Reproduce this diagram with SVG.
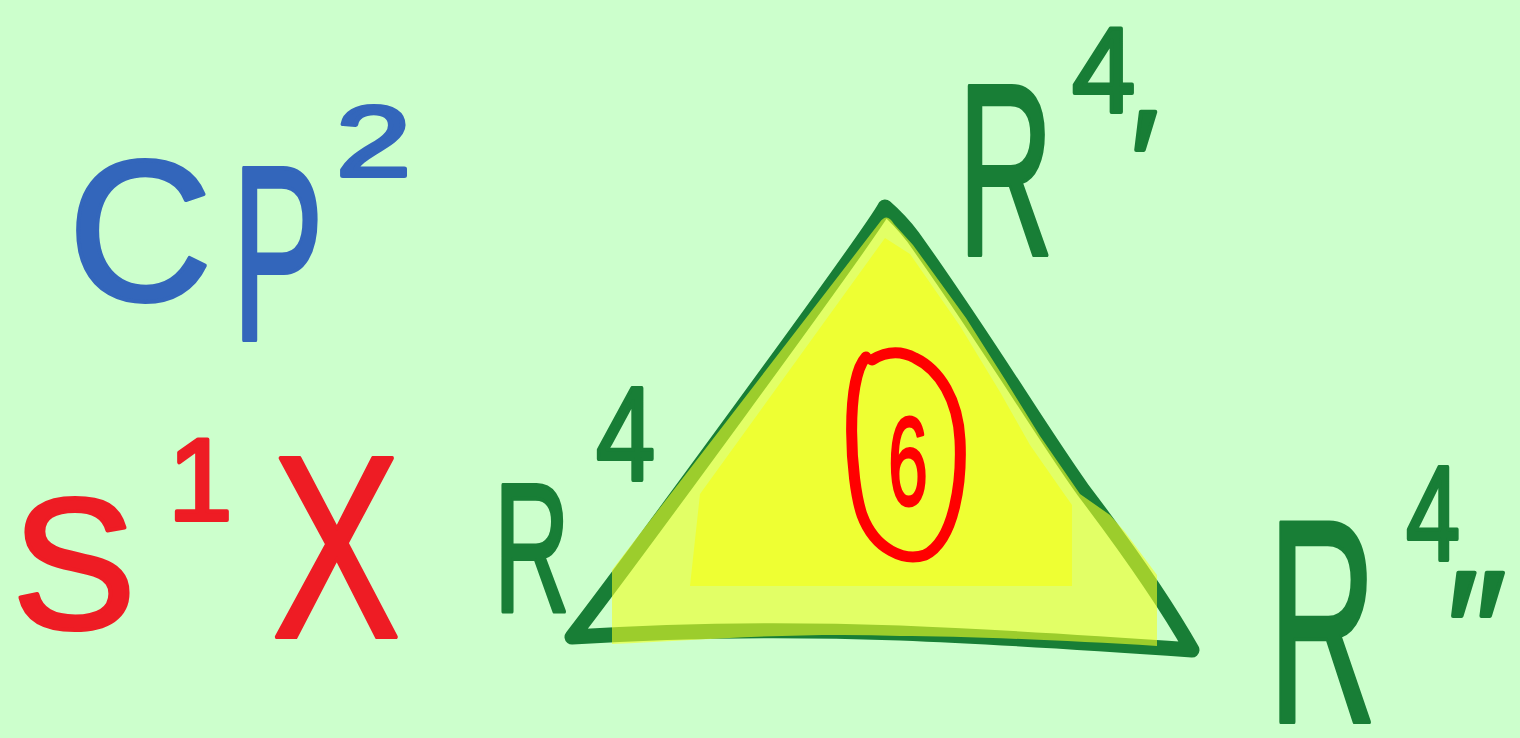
<svg xmlns="http://www.w3.org/2000/svg" width="1520" height="738" viewBox="0 0 1520 738">
<style>
.t{font-family:"Liberation Sans","DejaVu Sans",sans-serif;stroke-linejoin:round;stroke-linecap:round}
.blue{fill:#3366bb;stroke:#3366bb;stroke-width:4}
.red{fill:#ee1c24;stroke:#ee1c24;stroke-width:4}
.grn{fill:#187e36;stroke:#187e36;stroke-width:4}
</style>
<rect width="1520" height="738" fill="#ccffcc"/>
<g id="triangle">
<path d="M885,207 C870,235 620,575 572,637 C650,632 760,628 900,633 C1000,637 1120,645 1192,650 C1175,620 1140,565 1083,490 C1040,430 990,345 913,237 Q900,220 885,207 Z" fill="none" stroke="#187e36" stroke-width="15" stroke-linejoin="round"/>
<path d="M612,644 L612,570 L880,222 Q887,212 894,224 L913,245 L966,318 L1006,381 L1040,436 L1080,494 L1110,515 L1125,532 L1157,575 L1157,646 C1060,640 960,636 900,636 C800,632 700,640 612,644 Z" fill="#f0ff25" fill-opacity="0.61"/>
<path d="M885,238 L700,494 L690,586 L1072,586 L1072,505 L1060,488 L1030,445 L1000,392 L960,326 L910,254 Z" fill="#eeff33"/>
</g>
<g id="cp2">
<text class="t blue" x="68" y="300" font-size="200">C</text>
<text class="t blue" font-size="250" transform="translate(232,340) scale(0.55,1)">P</text>
<text class="t blue" font-size="100" transform="translate(336,176) scale(1.35,1)">2</text>
</g>
<g id="s1x">
<text class="t red" x="12" y="628" font-size="186">S</text>
<text class="t red" x="168" y="520" font-size="116">1</text>
<text class="t red" font-size="260" transform="translate(272,637) scale(0.74,1)">X</text>
</g>
<g id="r4a">
<text class="t grn" font-size="184" transform="translate(494,612) scale(0.57,1)">R</text>
<text class="t grn" font-size="133" transform="translate(596,480) scale(0.8,1)">4</text>
</g>
<g id="r4b">
<text class="t grn" font-size="245" transform="translate(958,255) scale(0.54,1)">R</text>
<text class="t grn" font-size="120" transform="translate(1072,112) scale(0.95,1)">4</text>
<text class="t grn" font-size="150" x="1130" y="215">′</text>
</g>
<g id="r4c">
<text class="t grn" font-size="290" transform="translate(1268,722) scale(0.52,1)">R</text>
<text class="t grn" font-size="135" transform="translate(1406,560) scale(0.72,1)">4</text>
<text class="t grn" font-size="170" x="1446" y="690">″</text>
</g>
<g id="six">
<path d="M866,357 C845,380 850,480 862,515 C875,550 905,562 925,555 C955,540 962,480 960,440 C958,400 940,370 915,358 C900,350 885,352 872,360" fill="none" stroke="#ff0000" stroke-width="11" stroke-linecap="round"/>
<text class="t" font-size="126" fill="#ff0000" stroke="#ff0000" stroke-width="3" transform="translate(888,505) scale(0.57,1)">6</text>
</g>
</svg>
